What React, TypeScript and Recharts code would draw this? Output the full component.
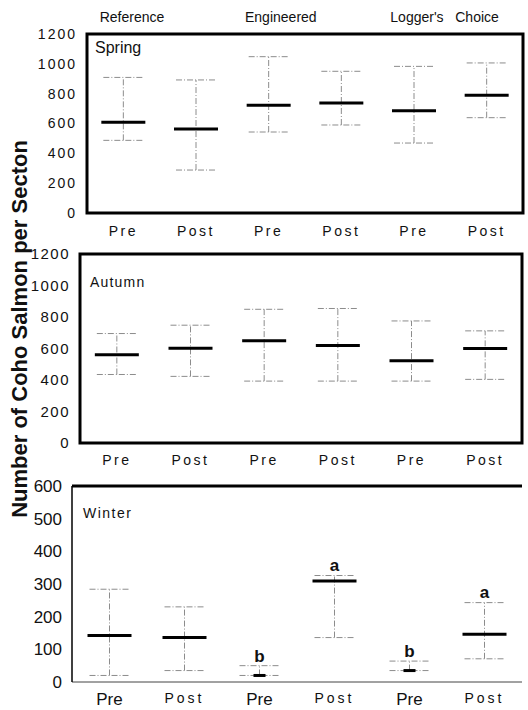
import React from 'react';
import { ComposedChart, Scatter, ErrorBar, XAxis, YAxis, ReferenceArea, ReferenceLine } from 'recharts';

// Groups, left to right: treatment x period
const groupKeys = ['Ref-Pre', 'Ref-Post', 'Eng-Pre', 'Eng-Post', 'LC-Pre', 'LC-Post'];
const phaseLabels = ['Pre', 'Post', 'Pre', 'Post', 'Pre', 'Post'];
const treatments = ['Reference', 'Engineered', "Logger's   Choice"];

const springMean = [608, 563, 722, 737, 686, 789];
const springLow = [487, 288, 543, 590, 469, 639];
const springHigh = [909, 892, 1048, 950, 983, 1006];

const autumnMean = [560, 602, 649, 619, 522, 600];
const autumnLow = [435, 423, 393, 393, 393, 404];
const autumnHigh = [695, 748, 849, 854, 775, 712];

const winterMean = [142, 136, 20, 309, 35, 146];
const winterLow = [20, 35, 20, 136, 35, 71];
const winterHigh = [284, 230, 50, 326, 64, 243];
const winterLetters = ['', '', 'b', 'a', 'b', 'a'];

const bigTicks = [0, 200, 400, 600, 800, 1000, 1200];
const winterTicks = [0, 100, 200, 300, 400, 500, 600];

const FONT = '"Liberation Sans", Arial, sans-serif';

interface Row {
  idx: number;
  mean: number;
  high: number;
  err: [number, number];
  letter: string;
}

function buildRows(mean: number[], low: number[], high: number[], letters?: string[]): Row[] {
  return groupKeys.map((_, i) => ({
    idx: i,
    mean: mean[i],
    high: high[i],
    err: [mean[i] - low[i], high[i] - mean[i]],
    letter: letters ? letters[i] : '',
  }));
}

const springRows = buildRows(springMean, springLow, springHigh);
const autumnRows = buildRows(autumnMean, autumnLow, autumnHigh);
const winterRows = buildRows(winterMean, winterLow, winterHigh, winterLetters);
const xTicks = groupKeys.map((_, i) => i);

// thick horizontal mark for the mean
function MeanMark(props: any) {
  const { cx, cy, payload } = props;
  if (cx == null || cy == null) return null;
  const half = payload.mean < 50 ? 6 : 22;
  return <line x1={cx - half} x2={cx + half} y1={cy} y2={cy} stroke="#000" strokeWidth={3} />;
}

function LetterMark(props: any) {
  const { cx, cy, payload } = props;
  if (cx == null || cy == null) return null;
  return (
    <text x={cx} y={cy + 4} textAnchor="middle" fontFamily={FONT} fontWeight="bold" fontSize={17} fill="#111">
      {payload.letter}
    </text>
  );
}

function makeXTick(size: number, spacing: number, preSize?: number) {
  return (props: any) => {
    const { x, y, payload } = props;
    const label = phaseLabels[payload.value];
    const big = preSize && label === 'Pre';
    return (
      <text
        x={x}
        y={y}
        dy="0.71em"
        textAnchor="middle"
        fontFamily={FONT}
        fontSize={big ? preSize : size}
        letterSpacing={big ? 0 : spacing}
        fill="#111"
      >
        {label}
      </text>
    );
  };
}

interface PanelProps {
  rows: Row[];
  top: number;
  height: number;
  yWidth: number;
  margin: { top: number; right: number; bottom: number; left: number };
  max: number;
  ticks: number[];
  yFont: number;
  ySpacing: number;
  xTickMargin: number;
  xTick: (p: any) => React.ReactElement;
  boxed: boolean;
  letters?: boolean;
}

function Panel(p: PanelProps) {
  const letterRows = p.rows.filter((r) => r.letter).map((r) => ({ ...r, at: r.high + 25 }));
  return (
    <div style={{ position: 'absolute', left: 0, top: p.top }}>
      <ComposedChart width={528} height={p.height} data={p.rows} margin={p.margin}>
        <XAxis
          dataKey="idx"
          type="number"
          domain={[-0.5, groupKeys.length - 0.5]}
          ticks={xTicks}
          tickLine={false}
          axisLine={p.boxed ? false : { stroke: '#444', strokeWidth: 1 }}
          tickMargin={p.xTickMargin}
          tick={p.xTick}
          height={20}
          interval={0}
        />
        <YAxis
          type="number"
          domain={[0, p.max]}
          ticks={p.ticks}
          width={p.yWidth}
          tickLine={false}
          axisLine={p.boxed ? false : { stroke: '#000', strokeWidth: 1.5 }}
          tickMargin={4}
          interval={0}
          tick={{ fontSize: p.yFont, fill: '#111', fontFamily: FONT, letterSpacing: p.ySpacing }}
        />
        {p.boxed ? (
          <ReferenceArea y1={0} y2={p.max} fill="none" stroke="#000" strokeWidth={3} ifOverflow="visible" />
        ) : (
          <ReferenceLine y={p.max} stroke="#000" strokeWidth={3} ifOverflow="visible" />
        )}
        <Scatter dataKey="mean" shape={MeanMark} isAnimationActive={false}>
          <ErrorBar
            dataKey="err"
            direction="y"
            width={20}
            stroke="#8c8c8c"
            strokeWidth={1}
            strokeDasharray="6 2 1 2"
          />
        </Scatter>
        {p.letters && (
          <Scatter data={letterRows} dataKey="at" shape={LetterMark} isAnimationActive={false} />
        )}
      </ComposedChart>
    </div>
  );
}

export default function App() {
  // header positions follow the Spring panel's category bands
  const springLeft = 87;
  const band = (523 - springLeft) / groupKeys.length;
  return (
    <div style={{ position: 'absolute', left: 0, top: 0, width: 528, height: 710, background: '#fff' }}>
      <Panel
        rows={springRows}
        top={0}
        height={250}
        yWidth={87}
        margin={{ top: 34, right: 5, bottom: 17, left: 0 }}
        max={1200}
        ticks={bigTicks}
        yFont={14}
        ySpacing={2}
        xTickMargin={7}
        xTick={makeXTick(14, 2.5)}
        boxed
      />
      <Panel
        rows={autumnRows}
        top={240}
        height={230}
        yWidth={80}
        margin={{ top: 14, right: 6, bottom: 7, left: 0 }}
        max={1200}
        ticks={bigTicks}
        yFont={15}
        ySpacing={1.5}
        xTickMargin={6}
        xTick={makeXTick(14, 2.5)}
        boxed
      />
      <Panel
        rows={winterRows}
        top={470}
        height={240}
        yWidth={72}
        margin={{ top: 16, right: 6, bottom: 8, left: 0 }}
        max={600}
        ticks={winterTicks}
        yFont={17}
        ySpacing={0}
        xTickMargin={5}
        xTick={makeXTick(14, 3, 17)}
        boxed={false}
        letters
      />
      <svg width={528} height={710} style={{ position: 'absolute', left: 0, top: 0, pointerEvents: 'none' }}>
        {treatments.map((t, i) => (
          <text
            key={t}
            x={springLeft + band * (2 * i + 1) - 60}
            y={22}
            fontFamily={FONT}
            fontSize={14}
            fill="#111"
            style={{ whiteSpace: 'pre' }}
          >
            {t}
          </text>
        ))}
        <text x={95} y={53} fontFamily={FONT} fontSize={16} fill="#111">Spring</text>
        <text x={90} y={287} fontFamily={FONT} fontSize={14} letterSpacing={1.2} fill="#111">Autumn</text>
        <text x={83} y={518} fontFamily={FONT} fontSize={14} letterSpacing={1.5} fill="#111">Winter</text>
        <text
          transform="rotate(-90)"
          x={-329}
          y={27}
          textAnchor="middle"
          fontFamily={FONT}
          fontWeight="bold"
          fontSize={22}
          fill="#111"
        >
          Number of Coho Salmon per Secton
        </text>
      </svg>
    </div>
  );
}
